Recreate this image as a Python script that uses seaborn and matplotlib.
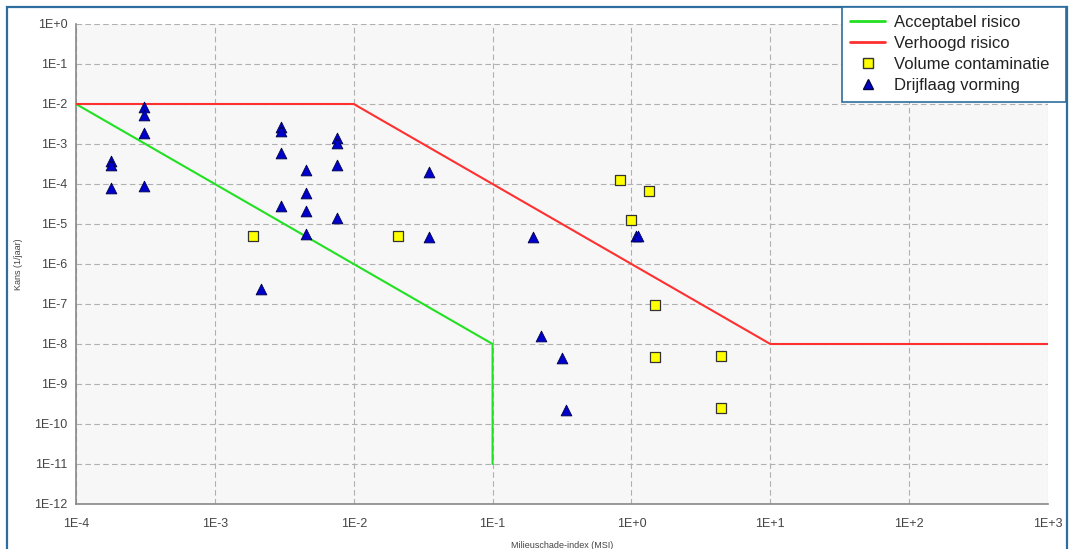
import matplotlib
matplotlib.use("Agg")
import matplotlib.pyplot as plt
from matplotlib.lines import Line2D
from matplotlib.patches import Rectangle
import seaborn as sns
import pandas as pd

# ---- data ----
accept_x = [1e-4, 1e-1, 1e-1]
accept_y = [1e-2, 1e-8, 1e-11]
verhoogd_x = [1e-4, 1e-2, 1e1, 1e3]
verhoogd_y = [1e-2, 1e-2, 1e-8, 1e-8]

volume_x = [1.87e-3, 2.07e-2, 0.83, 1.33, 1.0, 1.49, 1.49, 4.4, 4.4]
volume_y = [5e-6, 5e-6, 1.26e-4, 6.7e-5, 1.24e-5, 9.3e-8, 4.8e-9, 5e-9, 2.5e-10]

drijf_x = [1.79e-4, 1.79e-4, 1.79e-4,
           3.1e-4, 3.1e-4, 3.1e-4, 3.1e-4,
           3.0e-3, 3.0e-3, 3.0e-3, 3.0e-3,
           4.5e-3, 4.5e-3, 4.5e-3, 4.5e-3,
           7.55e-3, 7.55e-3, 7.55e-3, 7.55e-3,
           2.15e-3,
           3.5e-2, 3.5e-2, 0.194, 1.07, 1.11,
           0.224, 0.316, 0.34]
drijf_y = [3.8e-4, 3.0e-4, 8.1e-5,
           8.3e-3, 5.3e-3, 1.9e-3, 9.1e-5,
           2.7e-3, 2.1e-3, 6.0e-4, 2.8e-5,
           2.24e-4, 6.0e-5, 2.15e-5, 5.6e-6,
           1.44e-3, 1.07e-3, 2.95e-4, 1.4e-5,
           2.4e-7,
           1.96e-4, 4.7e-6, 4.7e-6, 4.9e-6, 4.9e-6,
           1.6e-8, 4.4e-9, 2.3e-10]

x_ticks = [1e-4, 1e-3, 1e-2, 1e-1, 1e0, 1e1, 1e2, 1e3]
x_labels = ["1E-4", "1E-3", "1E-2", "1E-1", "1E+0", "1E+1", "1E+2", "1E+3"]
y_ticks = [10.0 ** (-k) for k in range(0, 13)]
y_labels = ["1E+0"] + [f"1E-{k}" for k in range(1, 13)]

legend_labels = ["Acceptabel risico", "Verhoogd risico", "Volume contaminatie", "Drijflaag vorming"]

# ---- style ----
sns.set_theme(style="white")
plt.rcParams["font.family"] = ["Liberation Sans", "DejaVu Sans"]

fig = plt.figure(figsize=(10.71, 5.49), dpi=100)
ax = fig.add_axes([76 / 1071, 1 - 504 / 549, (1048 - 76) / 1071, (504 - 24) / 549])
ax.set_facecolor("#f7f7f7")

frame_col = "#2e6e9e"
fig.patches.append(Rectangle((7 / 1071, -0.01), (1067 - 7) / 1071, 1 - 7 / 549 + 0.01,
                             transform=fig.transFigure, fill=False,
                             edgecolor=frame_col, linewidth=1.6, zorder=0))

ax.set_xscale("log")
ax.set_yscale("log")

sns.lineplot(x=accept_x, y=accept_y, sort=False, estimator=None, color="#22e022",
             linewidth=1.5, ax=ax, zorder=3)
sns.lineplot(x=verhoogd_x, y=verhoogd_y, sort=False, estimator=None, color="#ff3030",
             linewidth=1.5, ax=ax, zorder=3)

vol_df = pd.DataFrame({"x": volume_x, "y": volume_y})
drf_df = pd.DataFrame({"x": drijf_x, "y": drijf_y})
sns.scatterplot(data=vol_df, x="x", y="y", marker="s", s=55, color="#ffff00",
                edgecolor="#333333", linewidth=0.9, ax=ax, zorder=4)
sns.scatterplot(data=drf_df, x="x", y="y", marker="^", s=60, color="#0000cc",
                edgecolor="#000044", linewidth=0.6, ax=ax, zorder=5)

ax.set_xlim(1e-4, 1e3)
ax.set_ylim(1e-12, 1e0)
ax.set_xticks(x_ticks)
ax.set_xticklabels(x_labels)
ax.set_yticks(y_ticks)
ax.set_yticklabels(y_labels)
ax.minorticks_off()
ax.tick_params(axis="both", labelsize=9, colors="#444444", length=0, pad=6)
ax.tick_params(axis="x", pad=10)

ax.grid(True, which="major", linestyle=(0, (5, 3)), color="#b0b0b0", linewidth=0.8)
for s in ["top", "right"]:
    ax.spines[s].set_visible(False)
for s in ["left", "bottom"]:
    ax.spines[s].set_color("#888888")
    ax.spines[s].set_linewidth(1.2)

ax.set_xlabel("Milieuschade-index (MSI)", fontsize=6.5, color="#444444", labelpad=8)
ax.set_ylabel("Kans (1/jaar)", fontsize=6.5, color="#444444", labelpad=8)

handles = [
    Line2D([0], [0], color="#22e022", linewidth=2),
    Line2D([0], [0], color="#ff3030", linewidth=2),
    Line2D([0], [0], linestyle="none", marker="s", markersize=7, markerfacecolor="#ffff00",
           markeredgecolor="#333333"),
    Line2D([0], [0], linestyle="none", marker="^", markersize=7, markerfacecolor="#0000cc",
           markeredgecolor="#000044"),
]
leg = fig.legend(handles, legend_labels, loc="upper left", mode="expand",
                 bbox_to_anchor=(842 / 1071, 1 - 7 / 549, (1066 - 842) / 1071, 0.0),
                 bbox_transform=fig.transFigure,
                 fontsize=12, frameon=True, fancybox=False, framealpha=1,
                 handlelength=2.1, handletextpad=0.5, borderpad=0.5, labelspacing=0.36,
                 borderaxespad=0)
leg.get_frame().set_edgecolor(frame_col)
leg.get_frame().set_linewidth(1.2)
for t in leg.get_texts():
    t.set_color("#222222")

fig.savefig("out.png", dpi=100, facecolor="white")
